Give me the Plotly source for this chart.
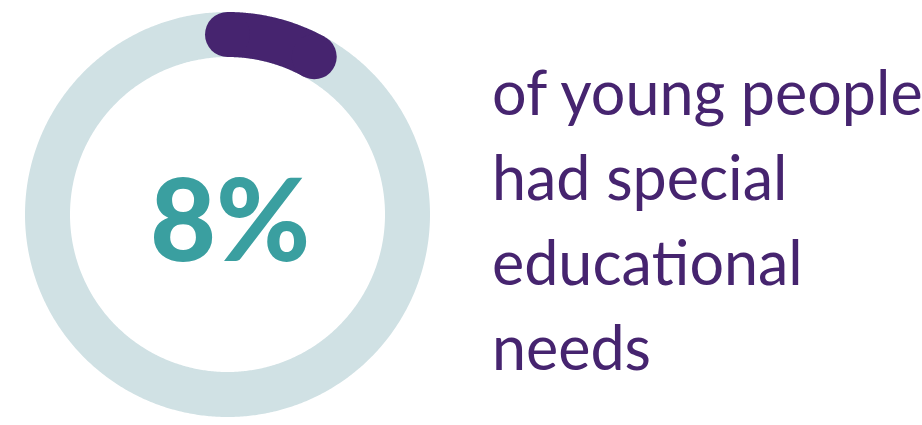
import numpy as np
import plotly.graph_objects as go

# ---- data ----
share_pct = [8]                 # percent of young people
value_label = ["8%"]
text_lines = ["of young people", "had special", "educa\u200ctional", "needs"]

# ---- styling / layout constants ----
W, H = 922, 425
CX, CY = 227.5, 214.5          # ring centre (pixel-mapped axis units)
R = 180                         # ring mid radius
RING_W = 45                     # ring thickness
RING_COL = "#D0E1E4"
ARC_COL = "#46246F"
TEAL = "#3A9FA0"
PURPLE = "#46246F"
TXT_SIZE = 61
TXT_X = 490
BASE0, LINE_GAP = 110, 85

def arc_xy(frac_start, frac_end, n=720):
    th = np.linspace(frac_start, frac_end, n) * 2 * np.pi
    return CX + R * np.sin(th), CY - R * np.cos(th)

fig = go.Figure()

# background ring (100%)
rx, ry = arc_xy(0, 1)
fig.add_trace(go.Scatter(x=rx, y=ry, mode="lines",
                         line=dict(color=RING_COL, width=RING_W, simplify=False),
                         hoverinfo="skip", showlegend=False))

# value arc
frac = share_pct[0] / 100
ax_, ay_ = arc_xy(0, frac, 120)
fig.add_trace(go.Scatter(x=ax_, y=ay_, mode="lines",
                         line=dict(color=ARC_COL, width=RING_W, simplify=False),
                         hoverinfo="skip", showlegend=False))
# rounded caps
fig.add_trace(go.Scatter(x=[ax_[0], ax_[-1]], y=[ay_[0], ay_[-1]], mode="markers",
                         marker=dict(color=ARC_COL, size=RING_W, line=dict(width=0)),
                         hoverinfo="skip", showlegend=False))

# centre value
fig.add_annotation(x=CX + 2, y=CY + 2, text="<b>%s</b>" % value_label[0], showarrow=False,
                   xanchor="center", yanchor="middle",
                   font=dict(family="'Lato Black', 'Lato Heavy', Lato", size=114,
                             color=TEAL, weight=900))

# description text, one line per annotation
for i, line in enumerate(text_lines):
    base = BASE0 + i * LINE_GAP
    fig.add_annotation(x=TXT_X, y=base - 0.3 * TXT_SIZE, text=line, showarrow=False,
                       xanchor="left", yanchor="middle", align="left",
                       font=dict(family="Lato", size=TXT_SIZE, color=PURPLE))

fig.update_xaxes(range=[0, W], visible=False, fixedrange=True)
fig.update_yaxes(range=[H, 0], visible=False, fixedrange=True)
fig.update_layout(width=W, height=H, margin=dict(l=0, r=0, t=0, b=0),
                  plot_bgcolor="white", paper_bgcolor="white", showlegend=False)

fig.write_html("out.html")
